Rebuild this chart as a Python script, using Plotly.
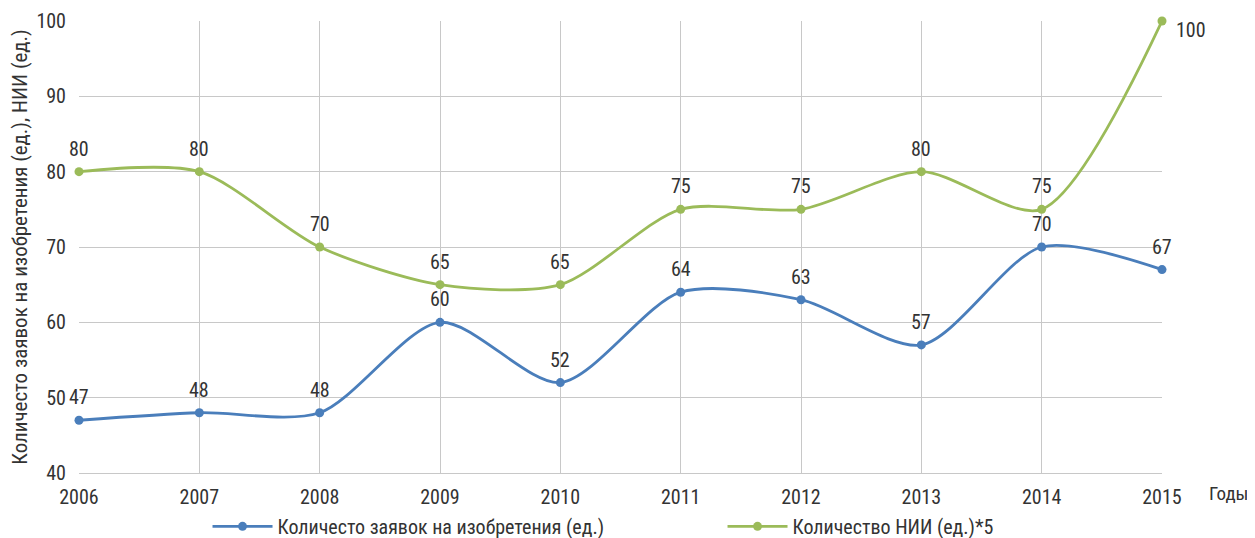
import plotly.graph_objs as go

years = [2006, 2007, 2008, 2009, 2010, 2011, 2012, 2013, 2014, 2015]
applications = [47, 48, 48, 60, 52, 64, 63, 57, 70, 67]
institutes = [80, 80, 70, 65, 65, 75, 75, 80, 75, 100]

blue = '#4A7EBB'
green = '#9BBB59'
font = 'Roboto Condensed, Liberation Sans Narrow, Roboto, Arial'
fs = 20
txt = '#333333'

fig = go.Figure()
fig.add_trace(go.Scatter(
    x=years, y=applications, name='Количесто заявок на изобретения (ед.)',
    mode='lines+markers', line=dict(color=blue, width=2.8, shape='spline', smoothing=0.8),
    marker=dict(size=9, color=blue), cliponaxis=False))
fig.add_trace(go.Scatter(
    x=years, y=institutes, name='Количество НИИ (ед.)*5',
    mode='lines+markers', line=dict(color=green, width=2.8, shape='spline', smoothing=0.8),
    marker=dict(size=9, color=green), cliponaxis=False))

# data labels
for series in (applications, institutes):
    for yr, v in zip(years, series):
        if v == 100:
            fig.add_annotation(x=yr, y=v, text=str(v), showarrow=False, xanchor='center',
                               yanchor='middle', xshift=29, yshift=-9, font=dict(size=fs))
        else:
            fig.add_annotation(x=yr, y=v, text=str(v), showarrow=False, xanchor='center',
                               yanchor='middle', yshift=23, font=dict(size=fs))

fig.add_annotation(x=1.0, xref='paper', y=0, yref='paper', xanchor='left', yanchor='middle',
                   xshift=45, yshift=-20, text='Годы', showarrow=False,
                   font=dict(size=19, color=txt, family=font))

fig.update_layout(
    width=1247, height=530,
    margin=dict(l=71, r=93, t=13, b=65, autoexpand=False),
    plot_bgcolor='white', paper_bgcolor='white',
    font=dict(family=font, size=fs, color=txt),
    showlegend=True,
    legend=dict(orientation='h', x=0.16, xref='container', xanchor='left',
                y=0.022, yref='container', yanchor='middle', bgcolor='rgba(0,0,0,0)',
                font=dict(size=fs), itemwidth=60, entrywidth=440),
    xaxis=dict(range=[2006, 2015], tickvals=years, showgrid=True, gridcolor='#C8C8C8',
               gridwidth=1, showline=True, linecolor='#C8C8C8', zeroline=False,
               ticks='', tickfont=dict(size=fs), automargin=False, ticklabelstandoff=6),
    yaxis=dict(range=[40, 100], dtick=10, showgrid=True, gridcolor='#C8C8C8', gridwidth=1,
               showline=False, zeroline=False, ticks='', tickfont=dict(size=fs),
               automargin=False, ticklabelstandoff=12,
               title=dict(text='Количесто заявок на изобретения (ед.), НИИ (ед.)',
                          font=dict(size=21), standoff=10)),
)

fig.write_html('out.html')
